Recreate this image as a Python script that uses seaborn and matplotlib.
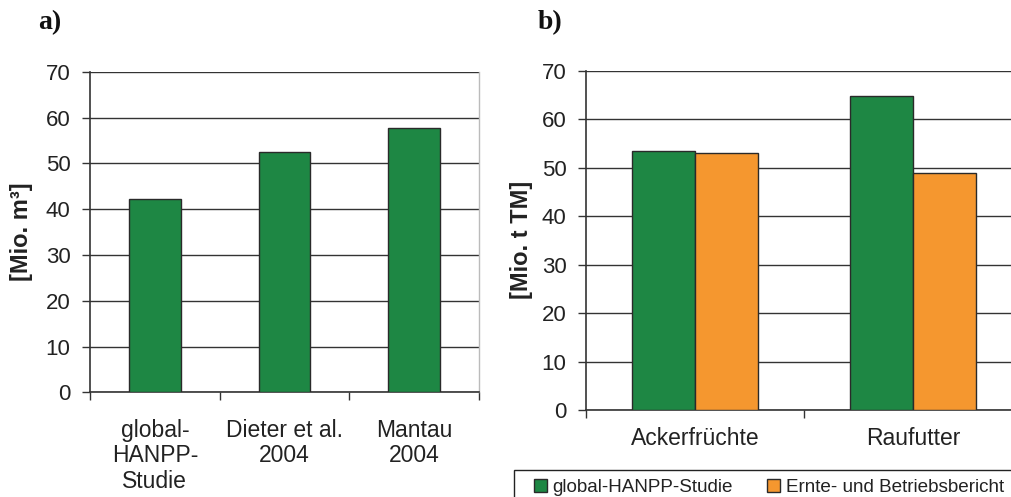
import matplotlib
matplotlib.use("Agg")
import matplotlib.pyplot as plt
import seaborn as sns
import pandas as pd
from matplotlib.patches import Patch, Rectangle

# ---- data ----
cats_a = ["global-\nHANPP-\nStudie", "Dieter et al.\n2004", "Mantau\n2004"]
vals_a = [42.3, 52.4, 57.6]

cats_b = ["Ackerfrüchte", "Raufutter"]
series_b = ["global-HANPP-Studie", "Ernte- und Betriebsbericht"]
vals_b_global = [53.4, 64.7]
vals_b_ernte = [53.1, 48.8]

green = "#1E8744"
orange = "#F5972F"
edge = "#2a2a2a"

sns.set_theme(style="white")
plt.rcParams["font.family"] = ["Liberation Sans", "DejaVu Sans"]

W, H = 1012, 497
fig = plt.figure(figsize=(W / 100, H / 100), dpi=100)

def px_axes(l, t, r, b):
    return fig.add_axes([l / W, 1 - b / H, (r - l) / W, (b - t) / H])

ax1 = px_axes(90, 71.7, 479, 392.3)
ax2 = px_axes(586, 70.7, 1022, 410)

df_a = pd.DataFrame({"cat": cats_a, "val": vals_a})
sns.barplot(data=df_a, x="cat", y="val", ax=ax1, color=green, width=0.4,
            edgecolor=edge, linewidth=1.0, saturation=1, zorder=3)

df_b = pd.DataFrame({
    "cat": cats_b * 2,
    "series": [series_b[0]] * 2 + [series_b[1]] * 2,
    "val": vals_b_global + vals_b_ernte,
})
sns.barplot(data=df_b, x="cat", y="val", hue="series", ax=ax2,
            palette=[green, orange], width=0.58, edgecolor=edge, linewidth=1.0,
            saturation=1, zorder=3, legend=False)

for ax, n in ((ax1, 3), (ax2, 2)):
    ax.set_ylim(0, 70)
    ax.set_xlim(-0.5, n - 0.5)
    ax.set_yticks(range(0, 71, 10))
    ax.yaxis.grid(True, color="#333333", linewidth=1.0, zorder=0)
    ax.set_axisbelow(True)
    ax.set_xlabel("")
    ax.spines["top"].set_visible(False)
    ax.spines["left"].set_color("#333333")
    ax.spines["bottom"].set_color("#333333")
    ax.spines["left"].set_linewidth(1.2)
    ax.spines["bottom"].set_linewidth(1.2)
    ax.set_xticks([i - 0.5 for i in range(n + 1)], minor=True)
    ax.tick_params(axis="x", which="minor", length=6, width=1.0, color="#333333", bottom=True)
    ax.tick_params(axis="y", which="major", length=6, width=1.0, color="#333333",
                   left=True, labelsize=16, labelcolor="#222222", pad=8)
    ax.tick_params(axis="x", which="major", length=0, labelsize=16.5, labelcolor="#222222")
    ax.set_facecolor("white")

ax1.spines["right"].set_color("#bbbbbb")
ax1.spines["right"].set_linewidth(1.0)
ax2.spines["right"].set_visible(False)

ax1.tick_params(axis="x", which="major", pad=19)
ax2.tick_params(axis="x", which="major", pad=12)
for lbl in ax1.get_xticklabels():
    lbl.set_linespacing(1.15)

ax1.set_ylabel("[Mio. m³]", fontsize=17, fontweight="bold", color="#222222")
ax2.set_ylabel("[Mio. t TM]", fontsize=17, fontweight="bold", color="#222222")
ax1.yaxis.set_label_coords((33 - 90) / 389, 0.5)
ax2.yaxis.set_label_coords((533 - 586) / 436, 0.5)

fig.text(38 / W, 1 - 23 / H, "a)", fontsize=20, fontweight="bold",
         family="Liberation Serif", va="center", ha="left", color="#111111")
fig.text(538 / W, 1 - 23 / H, "b)", fontsize=20, fontweight="bold",
         family="Liberation Serif", va="center", ha="left", color="#111111")

# legend frame (extends past the figure edges, as in the reference)
fig.patches.append(Rectangle((514 / W, 1 - 510 / H), (1030 - 514) / W, 40 / H,
                             transform=fig.transFigure, facecolor="none",
                             edgecolor="#222222", linewidth=1.0))

colors_b = [green, orange]
entry_x = [534, 767]
for name, col, x0 in zip(series_b, colors_b, entry_x):
    leg = fig.legend([Patch(facecolor=col, edgecolor=edge, linewidth=1.0)], [name],
                     loc="upper left", bbox_to_anchor=(x0 / W, 1 - 479 / H),
                     fontsize=13.6, frameon=False,
                     handlelength=0.68, handleheight=0.68, handletextpad=0.3,
                     borderpad=0, borderaxespad=0)
    for t in leg.get_texts():
        t.set_color("#222222")

fig.savefig("out.png", dpi=100)
